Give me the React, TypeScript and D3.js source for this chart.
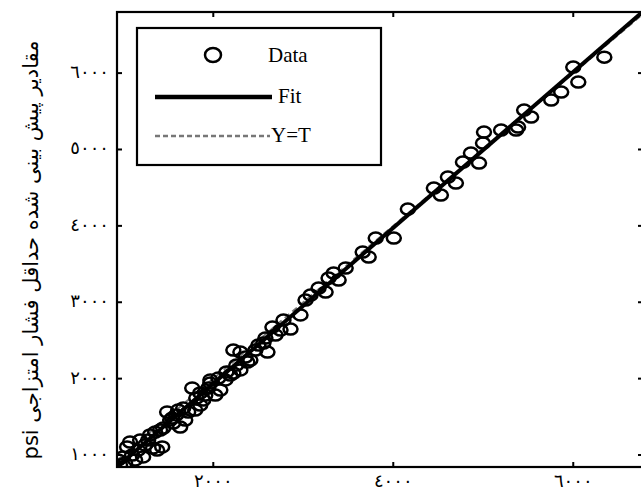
import React from 'react'
import * as d3 from 'd3'

// measured (target) vs predicted MMP, psi
const actual = [
  6345, 6000, 6056, 5866, 5755, 5454, 5532, 5387, 5008, 5198, 5365, 4997, 4863, 4774, 4953,
  4696, 4607, 4451, 4529, 4162, 4006, 3805, 3660, 3727, 3471, 3337, 3281, 3393, 3170, 3248,
  3081, 3025, 2969, 2780, 2691, 2657, 2858, 2468, 2412, 2557, 2602, 2379, 2301, 2301, 2223,
  2223, 2189, 2134, 2078, 2022, 1967, 1967, 1911, 1889, 1855, 1799, 1766, 1721, 1688, 1632,
  1610, 1554, 1521, 1487, 1432, 1409, 1376, 1331, 1298, 1220, 1187, 1131, 1075, 1042, 997,
  964, 942,
  1020, 1098, 1164, 1242, 1276, 1354, 1443, 1543, 1588, 1666, 1811, 1855, 1944, 2056, 2145,
  2256, 2357, 2501, 2579, 2747
]
const predicted = [
  6209, 6079, 5882, 5751, 5647, 5516, 5424, 5293, 5228, 5254, 5254, 5084, 4953, 4835, 4822,
  4560, 4639, 4495, 4403, 4220, 3840, 3840, 3657, 3592, 3448, 3382, 3317, 3291, 3186, 3133,
  3094, 3029, 2833, 2767, 2571, 2675, 2649, 2374, 2243, 2466, 2348, 2217, 2348, 2113, 2374,
  2073, 2047, 1982, 1851, 1785, 1982, 1942, 1785, 1720, 1654, 1589, 1877, 1563, 1458, 1366,
  1589, 1419, 1458, 1563, 1105, 1327, 1065, 1092, 1262, 974, 1196, 935, 1170, 1105, 974,
  869, 935,
  895, 1000, 1065, 1131, 1196, 1301, 1353, 1484, 1524, 1615, 1746, 1812, 1877, 2008, 2086,
  2178, 2283, 2440, 2531, 2636
]

const fitSlope = 1.02
const fitIntercept = -105

const xTicks = [2000, 4000, 6000]
const yTicks = [1000, 2000, 3000, 4000, 5000, 6000]

const yLabel = 'مقادیر پیش بینی شده حداقل فشار امتزاجی psi'
const legendItems = ['Data', 'Fit', 'Y=T']

const toArabicDigits = (n: number) =>
  String(n).replace(/[0-9]/g, d => '٠١٢٣٤٥٦٧٨٩'[+d])

export default function App() {
  const width = 641, height = 495
  const left = 117, right = 643, top = 12, bottom = 467

  const x = d3.scaleLinear().domain([930, 6775]).range([left, right])
  const y = d3.scaleLinear().domain([843, 6800]).range([bottom, top])

  const fit = (v: number) => fitIntercept + fitSlope * v
  const line = d3.line<number>().x(d => x(d)).y(d => y(fit(d)))
  const ident = d3.line<number>().x(d => x(d)).y(d => y(d))
  const xDom = x.domain()

  const tickLen = 5
  const arabicFont = 'DejaVu Sans'

  return (
    <svg width={width} height={height} style={{ position: 'absolute', left: 0, top: 0, background: '#fff' }}>
      <defs>
        <clipPath id="plot">
          <rect x={left} y={top} width={right - left} height={bottom - top} />
        </clipPath>
        <filter id="soft">
          <feGaussianBlur stdDeviation={0.5} />
        </filter>
      </defs>

      <g clipPath="url(#plot)" filter="url(#soft)">
        <path d={ident(xDom) || ''} stroke="#777" strokeWidth={2} strokeDasharray="6,4" fill="none" />
        <path d={line(xDom) || ''} stroke="#000" strokeWidth={4} fill="none" />
        {actual.map((a, i) => (
          <ellipse key={i} cx={x(a)} cy={y(predicted[i])} rx={7} ry={5.5}
            fill="none" stroke="#000" strokeWidth={2.5} />
        ))}
      </g>

      {/* frame + ticks */}
      <rect x={left} y={top} width={right - left} height={bottom - top} fill="none" stroke="#000" strokeWidth={2.2} />
      {xTicks.map(t => (
        <g key={t}>
          <line x1={x(t)} x2={x(t)} y1={bottom} y2={bottom - tickLen} stroke="#000" strokeWidth={2} />
          <line x1={x(t)} x2={x(t)} y1={top} y2={top + tickLen} stroke="#000" strokeWidth={2} />
          <text x={x(t)} y={bottom + 15} textAnchor="middle" dominantBaseline="middle"
            fontFamily={arabicFont} fontSize={18} letterSpacing={7}>{toArabicDigits(t)}</text>
        </g>
      ))}
      {yTicks.map(t => (
        <g key={t}>
          <line x1={left} x2={left + tickLen} y1={y(t)} y2={y(t)} stroke="#000" strokeWidth={2} />
          <line x1={right} x2={right - tickLen} y1={y(t)} y2={y(t)} stroke="#000" strokeWidth={2} />
          <text x={left - 8} y={y(t)} textAnchor="end" dominantBaseline="middle"
            fontFamily={arabicFont} fontSize={18} letterSpacing={7}>{toArabicDigits(t)}</text>
        </g>
      ))}

      <text transform={`translate(32,250) rotate(-90)`} textAnchor="middle"
        dominantBaseline="middle" fontFamily={arabicFont} fontSize={21} direction="rtl">{yLabel}</text>

      {/* legend */}
      <g>
        <rect x={137} y={28} width={244} height={137} fill="#fff" stroke="#000" strokeWidth={2.2} />
        <ellipse cx={213} cy={55} rx={8} ry={7} fill="none" stroke="#000" strokeWidth={2.5} />
        <line x1={155} x2={272} y1={97} y2={97} stroke="#000" strokeWidth={4.5} />
        <line x1={155} x2={270} y1={136} y2={136} stroke="#777" strokeWidth={2.5} strokeDasharray="5,3" />
        {legendItems.map((s, i) => (
          <text key={s} x={[268, 278, 271][i]} y={[62, 103, 142][i]} fontFamily="Liberation Serif" fontSize={21}>{s}</text>
        ))}
      </g>
    </svg>
  )
}
